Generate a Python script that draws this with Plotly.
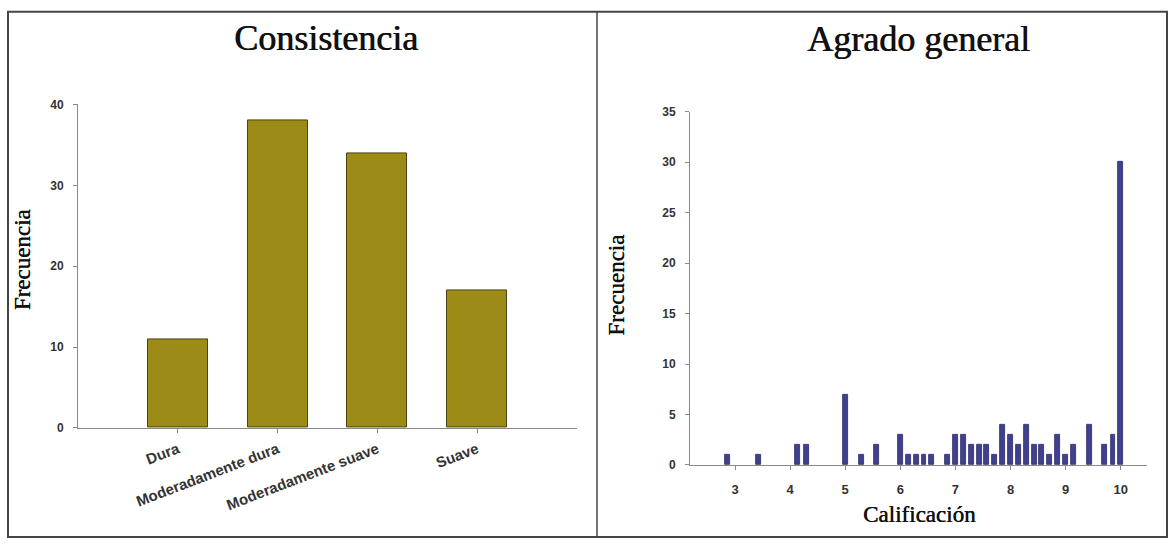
import plotly.graph_objects as go

# Consistencia (left panel)
consistencia_cat = ["Dura", "Moderadamente dura", "Moderadamente suave", "Suave"]
consistencia_freq = [11, 38, 34, 17]

# Agrado general (right panel): mean rating and its frequency
calificacion = [2.86, 3.43, 4.14, 4.29, 5.0, 5.29, 5.57, 6.0, 6.14, 6.29, 6.43, 6.57,
                6.86, 7.0, 7.14, 7.29, 7.43, 7.57, 7.71, 7.86, 8.0, 8.14, 8.29, 8.43,
                8.57, 8.71, 8.86, 9.0, 9.14, 9.43, 9.71, 9.86, 10.0]
agrado_freq = [1, 1, 2, 2, 7, 1, 2, 3, 1, 1, 1, 1,
               1, 3, 3, 2, 2, 2, 1, 4, 3, 2, 4, 2,
               2, 1, 3, 1, 2, 4, 2, 3, 30]

W, H = 1170, 546
px = lambda x: x / W
py = lambda y: 1 - y / H

fig = go.Figure()

fig.add_trace(go.Bar(
    x=consistencia_cat, y=consistencia_freq, width=0.6,
    marker=dict(color="#9c8b16", line=dict(color="#4a4410", width=1)),
    xaxis="x", yaxis="y", showlegend=False,
))
fig.add_trace(go.Bar(
    x=calificacion, y=agrado_freq, width=0.09,
    marker=dict(color="#40408e", line=dict(color="#2a2a66", width=0.8)),
    xaxis="x2", yaxis="y2", showlegend=False,
))


def axis_style(size):
    return dict(showline=True, linecolor="#8a8a8a", linewidth=1, ticks="outside",
                tickcolor="#8a8a8a", ticklen=4, showgrid=False, zeroline=False,
                tickfont=dict(family="Liberation Sans", size=size, color="#333333",
                              weight="bold"))


fig.update_layout(
    width=W, height=H,
    margin=dict(l=0, r=0, t=0, b=0),
    paper_bgcolor="white", plot_bgcolor="white",
    bargap=0,
    xaxis=dict(domain=[px(78), px(577)], range=[-1, 4], type="category",
               tickangle=-21, anchor="y", ticklabelstandoff=2, **axis_style(15)),
    yaxis=dict(domain=[py(432), py(100)], range=[0, 40], tickvals=[0, 10, 20, 30, 40],
               anchor="x", ticklabelstandoff=7, **axis_style(12)),
    xaxis2=dict(domain=[px(690), px(1147)], range=[2.183, 10.477],
                tickvals=[3, 4, 5, 6, 7, 8, 9, 10], anchor="y2",
                ticklabelstandoff=8, **axis_style(13)),
    yaxis2=dict(domain=[py(470), py(107.5)], range=[0, 35],
                tickvals=[0, 5, 10, 15, 20, 25, 30, 35], anchor="x2",
                ticklabelstandoff=7, **axis_style(12)),
)

# Semi-bold look for the serif texts via a thin horizontal text shadow
serif = "Liberation Serif"
semibold = "0.7px 0 0 #111111"
title_font = dict(family=serif, size=36, color="#111111", shadow=semibold)
label_font = dict(family=serif, size=23, color="#111111", shadow="0.5px 0 0 #111111")
annotations = [
    dict(text="Consistencia", x=px(326), y=py(32), font=title_font),
    dict(text="Agrado general", x=px(918), y=py(33), font=title_font),
    dict(text="Frecuencia", x=px(22), y=py(260), textangle=-90, font=label_font),
    dict(text="Frecuencia", x=px(617), y=py(286), textangle=-90, font=label_font),
    dict(text="Calificación", x=px(919), y=py(521), font=label_font),
]
for a in annotations:
    fig.add_annotation(xref="paper", yref="paper", showarrow=False,
                       xanchor="center", yanchor="middle", **a)

# Outer frame and panel divider
frame = dict(color="#444444", width=2)
fig.add_shape(type="rect", xref="paper", yref="paper",
              x0=px(8), x1=px(1167), y0=py(544), y1=py(5), line=frame)
fig.add_shape(type="line", xref="paper", yref="paper",
              x0=px(597), x1=px(597), y0=py(544), y1=py(5),
              line=dict(color="#444444", width=1.5))

fig.write_html("out.html")
